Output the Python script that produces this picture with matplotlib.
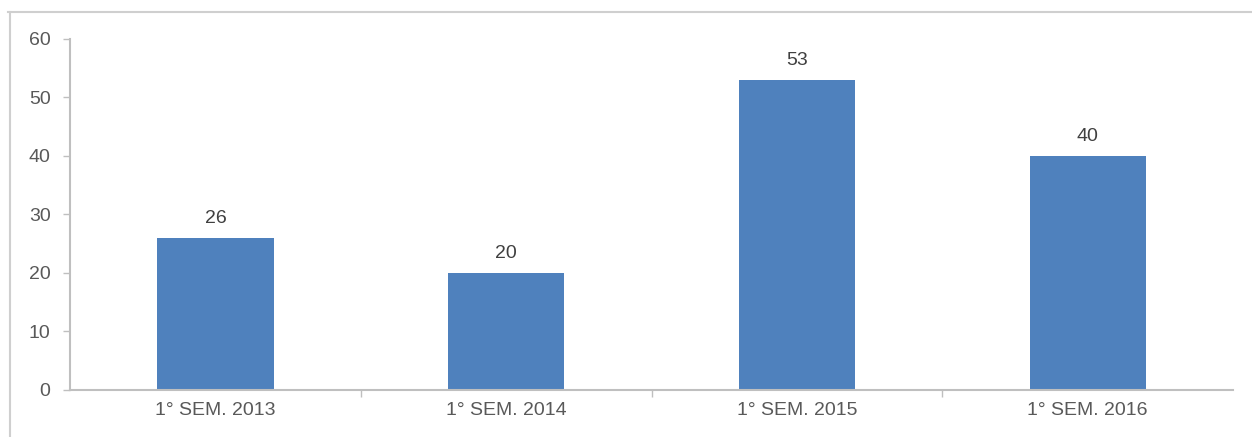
import matplotlib.pyplot as plt
from matplotlib.lines import Line2D

# semester totals
semesters = ['1° SEM. 2013', '1° SEM. 2014', '1° SEM. 2015', '1° SEM. 2016']
totals = [26, 20, 53, 40]
y_ticks = [0, 10, 20, 30, 40, 50, 60]

plt.rcParams['font.family'] = ['Liberation Sans', 'DejaVu Sans']

fig = plt.figure(figsize=(12.52, 4.37), dpi=100)
ax = fig.add_axes([0.0559, 0.1076, 0.929, 0.8032])

# outer frame, top and left edges only
frame_col = '#cfcfcf'
fig.add_artist(Line2D([8 / 1252, 1], [1 - 12 / 437, 1 - 12 / 437],
                      color=frame_col, lw=1.5, transform=fig.transFigure))
fig.add_artist(Line2D([10 / 1252, 10 / 1252], [0, 1 - 12 / 437],
                      color=frame_col, lw=1.5, transform=fig.transFigure))

x = list(range(len(semesters)))
bars = ax.bar(x, totals, width=0.4, color='#4f81bd', zorder=2)
for xi, v in zip(x, totals):
    ax.annotate(str(v), (xi, v), xytext=(0, 8), textcoords='offset points',
                ha='center', va='bottom', fontsize=14, color='#404040')

ax.set_xlim(-0.5, len(semesters) - 0.5)
ax.set_ylim(0, 60)
ax.set_yticks(y_ticks)
ax.set_xticks(x)
ax.set_xticklabels(semesters)
# small ticks between categories on the x axis
ax.set_xticks([i + 0.5 for i in x[:-1]], minor=True)

axis_col = '#bfbfbf'
for side in ['top', 'right']:
    ax.spines[side].set_visible(False)
for side in ['left', 'bottom']:
    ax.spines[side].set_color(axis_col)
    ax.spines[side].set_linewidth(1.5)

ax.tick_params(axis='y', length=5, width=1, color=axis_col,
               labelsize=14, labelcolor='#595959', pad=9)
ax.tick_params(axis='x', which='major', length=0, labelsize=14,
               labelcolor='#595959', pad=9)
ax.tick_params(axis='x', which='minor', length=5, width=1, color=axis_col)

fig.savefig('out.png', dpi=100)
